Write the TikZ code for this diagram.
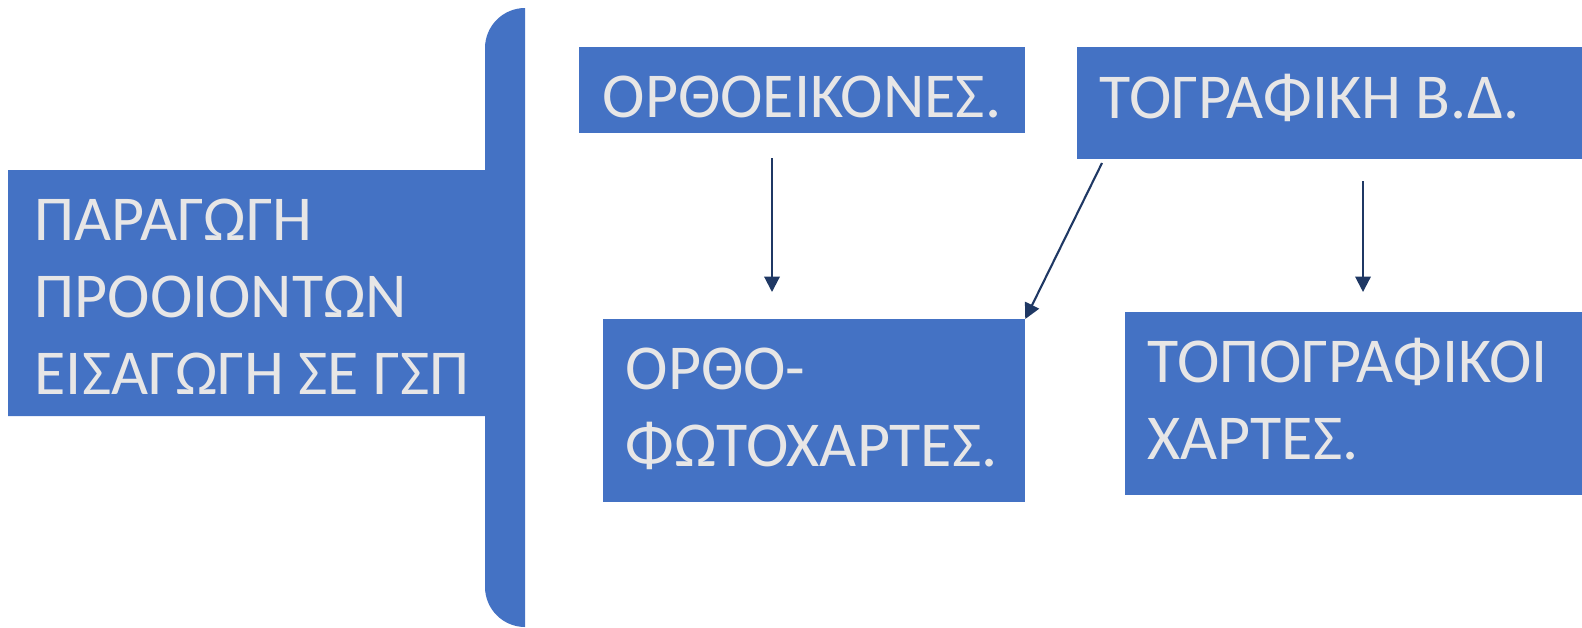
\documentclass[tikz,border=0pt]{standalone}
\usepackage{fontspec}
\setmainfont{Carlito}
\usetikzlibrary{arrows.meta}
\definecolor{boxblue}{HTML}{4472C4}
\definecolor{boxtxt}{HTML}{E7E6E6}
\definecolor{linknavy}{HTML}{1F3864}
\tikzset{
  prodbox/.style={fill=boxblue, inner sep=0pt, outer sep=0pt, anchor=north west},
  boxtext/.style={text=boxtxt, inner sep=0pt, anchor=base west, align=left,
    font=\fontsize{18.2}{21.8}\selectfont},
  link/.style={draw=linknavy, line width=0.6pt, -{Triangle[width=4.4pt,length=4.4pt]}}
}
\begin{document}
\begin{tikzpicture}[x=0.01cm, y=-0.01cm]
\useasboundingbox (0,0) rectangle (1582,627);
% main block with the bracket bar
\fill[boxblue] (525,8) .. controls (503,8) and (485,26) .. (485,48) -- (485,170) -- (8,170) -- (8,416)
  -- (485,416) -- (485,587) .. controls (485,609) and (503,627) .. (525,627) -- cycle;
\node[boxtext] (main-t) at (34,394) {ΠΑΡΑΓΩΓΗ\\ΠΡΟΟΙΟΝΤΩΝ\\ΕΙΣΑΓΩΓΗ ΣΕ ΓΣΠ};
% boxes
\node[prodbox, minimum width=4.46cm, minimum height=0.86cm] (eik) at (579,47) {};
\node[boxtext] (eik-t) at (602,117) {ΟΡΘΟΕΙΚΟΝΕΣ.};
\node[prodbox, minimum width=5.05cm, minimum height=1.12cm] (topo) at (1077,47) {};
\node[boxtext] (topo-t) at (1099,118) {ΤΟΓΡΑΦΙΚΗ Β.Δ.};
\node[prodbox, minimum width=4.22cm, minimum height=1.83cm] (ortho) at (603,319) {};
\node[boxtext] (ortho-t) at (625,466) {ΟΡΘΟ-\\ΦΩΤΟΧΑΡΤΕΣ.};
\node[prodbox, minimum width=4.57cm, minimum height=1.83cm] (xart) at (1125,312) {};
\node[boxtext] (xart-t) at (1147,459) {ΤΟΠΟΓΡΑΦΙΚΟΙ\\ΧΑΡΤΕΣ.};
% arrows
\coordinate (eik-out) at (772,158);
\coordinate (ortho-in) at (772,292);
\coordinate (topo-out1) at (1102,163);
\coordinate (topo-out2) at (1363,181);
\coordinate (xart-in) at (1363,292);
\draw[link] (eik-out) -- (ortho-in);
\draw[link] (topo-out1) -- (ortho.north east);
\draw[link] (topo-out2) -- (xart-in);
\end{tikzpicture}
\end{document}
